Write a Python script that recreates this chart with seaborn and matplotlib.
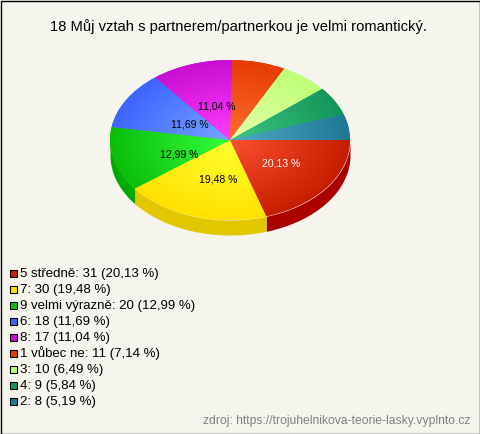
import numpy as np
import matplotlib
matplotlib.use("Agg")
import matplotlib.pyplot as plt
from matplotlib.patches import Rectangle
import seaborn as sns

title = "18 Můj vztah s partnerem/partnerkou je velmi romantický."
source = "zdroj: https://trojuhelnikova-teorie-lasky.vyplnto.cz"

labels = ["5 středně", "7", "9 velmi výrazně", "6", "8", "1 vůbec ne", "3", "4", "2"]
counts = [31, 30, 20, 18, 17, 11, 10, 9, 8]

base_colors = ["#c81e00", "#ffe100", "#0abe0a", "#3c64ff", "#c80fd2",
               "#e63c00", "#beff78", "#14965a", "#1e7896"]
light_colors = ["#fa5032", "#ffff32", "#32ff3c", "#78a5ff", "#ff3cff",
                "#ff6e32", "#e6ffaa", "#3cc882", "#50aac8"]
side_colors = ["#aa0000", "#e1c800", "#00aa00"]

W, H = 480, 434
BG = "#f5f4ed"
DEPTH = 15 / 80  # wall height, in units of the vertical radius
MIN_LABEL_PCT = 10  # small slices get no label on the pie

# small shifts of the on-pie labels, in pie units
label_nudge = [(0.066, -0.025), (0.035, -0.07), (0.011, -0.067), (0.057, -0.028), (0.035, -0.002)]

sns.set_theme(style="white")
plt.rcParams["font.family"] = ["Liberation Sans", "DejaVu Sans"]

fig = plt.figure(figsize=(W / 100, H / 100), dpi=100, facecolor=BG)

# pie axes, 240x175 px so that radius 1 gives the flattened ellipse
ax = fig.add_axes([110 / W, 1 - 235 / H, 240 / W, 175 / H])

total = sum(counts)
wedges, _, pct_texts = ax.pie(
    counts,
    colors=base_colors,
    startangle=0,
    counterclock=False,
    autopct=lambda p: f"{p:.2f} %".replace(".", ",") if p > MIN_LABEL_PCT else "",
    pctdistance=0.45,
    wedgeprops={"linewidth": 0},
    textprops={"fontsize": 7.5, "color": "black"},
)
pct_texts[0].set_color("white")
for t, (dx, dy) in zip(pct_texts, label_nudge):
    x, y = t.get_position()
    t.set_position((x + dx, y + dy))
ax.set_aspect("auto")

# lighter middle fading out towards the rim
gx, gy = np.meshgrid(np.linspace(-1, 1, 300), np.linspace(-1, 1, 300))
radius = np.hypot(gx, gy)
for wedge, light, base in zip(wedges, light_colors, base_colors):
    cmap = sns.blend_palette([light, base], n_colors=256, as_cmap=True)
    im = ax.imshow(radius, cmap=cmap, vmin=0, vmax=1, extent=(-1, 1, -1, 1),
                   origin="lower", aspect="auto", zorder=2)
    im.set_clip_path(wedge)
ax.set_xlim(-1, 1)
ax.set_ylim(-1 - DEPTH, 1)

# side wall for the front half
edges = np.cumsum([0] + counts) / total * 2 * np.pi
for i, color in enumerate(side_colors):
    end = min(edges[i + 1], np.pi)
    a = np.linspace(edges[i], end, 80)
    ax.fill_between(np.cos(a), -np.sin(a) - DEPTH, -np.sin(a), color=color,
                    linewidth=0, zorder=0.5)

fig.text(238.5 / W, 1 - 27 / H, title, ha="center", va="center", fontsize=10.64, color="black")

# legend as a plain list under the pie
overlay = fig.add_axes([0, 0, 1, 1], facecolor="none")
overlay.set_xlim(0, W)
overlay.set_ylim(H, 0)
overlay.axis("off")
for i, (lab, n, color) in enumerate(zip(labels, counts, base_colors)):
    y = 274 + i * 16
    overlay.add_patch(Rectangle((9.5, y - 4), 7, 7, facecolor=color, edgecolor="black", linewidth=0.8))
    pct = f"{n / total * 100:.2f}".replace(".", ",")
    overlay.text(20, y - 0.5, f"{lab}: {n} ({pct} %)", va="center", ha="left", fontsize=9.5, color="black")

overlay.text(470, 421, source, ha="right", va="center", fontsize=8.7, color="#808080")

# dark frame of the picture
overlay.add_patch(Rectangle((0.5, 0.5), W - 1, H - 1, fill=False, edgecolor="black", linewidth=1))

fig.savefig("out.png", dpi=100, facecolor=BG)
